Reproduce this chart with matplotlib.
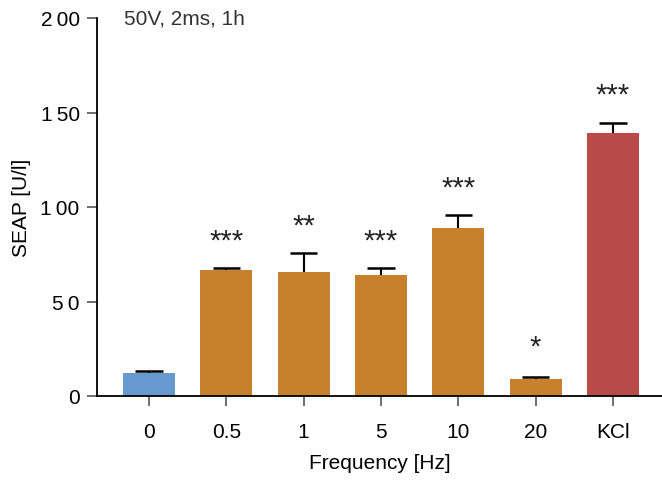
import matplotlib
matplotlib.use("Agg")
import matplotlib.pyplot as plt

plt.rcParams['font.family'] = ['Liberation Sans', 'DejaVu Sans']

categories = ["0", "0.5", "1", "5", "10", "20", "KCl"]
seap_mean = [12.2, 66.7, 65.6, 64.0, 88.9, 9.0, 139.2]
seap_sem = [0.8, 1.0, 10.1, 3.6, 6.9, 1.2, 5.4]
significance = ["", "***", "**", "***", "***", "*", "***"]
y_ticks = [0, 50, 100, 150, 200]
y_ticklabels = ["0", "5\u20090", "1\u200900", "1\u200950", "2\u200900"]
bar_colors = ["#6699D0", "#C8802C", "#C8802C", "#C8802C", "#C8802C", "#C8802C", "#B84A4A"]

fig = plt.figure(figsize=(6.62, 4.85), dpi=100)
ax = fig.add_axes([97 / 662, 1 - 397 / 485, 1 - 97 / 662, (397 - 19) / 485])

x = list(range(len(categories)))
ax.bar(x, seap_mean, width=0.672, color=bar_colors, zorder=2)

# upper-only error bars (stem + cap)
tops = [m + s for m, s in zip(seap_mean, seap_sem)]
ax.vlines(x, seap_mean, tops, color="black", linewidth=1.5, zorder=3)
ax.hlines(tops, [xi - 0.175 for xi in x], [xi + 0.175 for xi in x],
          color="black", linewidth=1.8, zorder=3)

for xi, top, lab in zip(x, tops, significance):
    if lab:
        off = 22 if lab == "*" else 20
        ax.annotate(lab, (xi, top), xytext=(0, off), textcoords="offset points",
                    ha="center", va="center", fontsize=21, color="#222222")

ax.set_xlim(-0.672, 6.634)
ax.set_ylim(0, 200)
ax.set_yticks(y_ticks)
ax.set_yticklabels(y_ticklabels)
ax.set_xticks(x)
ax.set_xticklabels(categories)

for side in ("top", "right"):
    ax.spines[side].set_visible(False)
ax.spines["left"].set_linewidth(1.3)
ax.spines["bottom"].set_linewidth(1.3)
ax.tick_params(axis="y", length=7.5, width=1.2, color="#555555", labelsize=15, pad=5)
ax.tick_params(axis="x", length=7.5, width=1.2, color="#555555", labelsize=15, pad=11)

ax.set_xlabel("Frequency [Hz]", fontsize=15, labelpad=9)
ax.set_ylabel("SEAP [U/l]", fontsize=15, labelpad=7)

ax.text(0.048, 1.0, "50V, 2ms, 1h", transform=ax.transAxes, ha="left", va="center",
        fontsize=15, color="#333333")

fig.savefig("out.png", dpi=100)
